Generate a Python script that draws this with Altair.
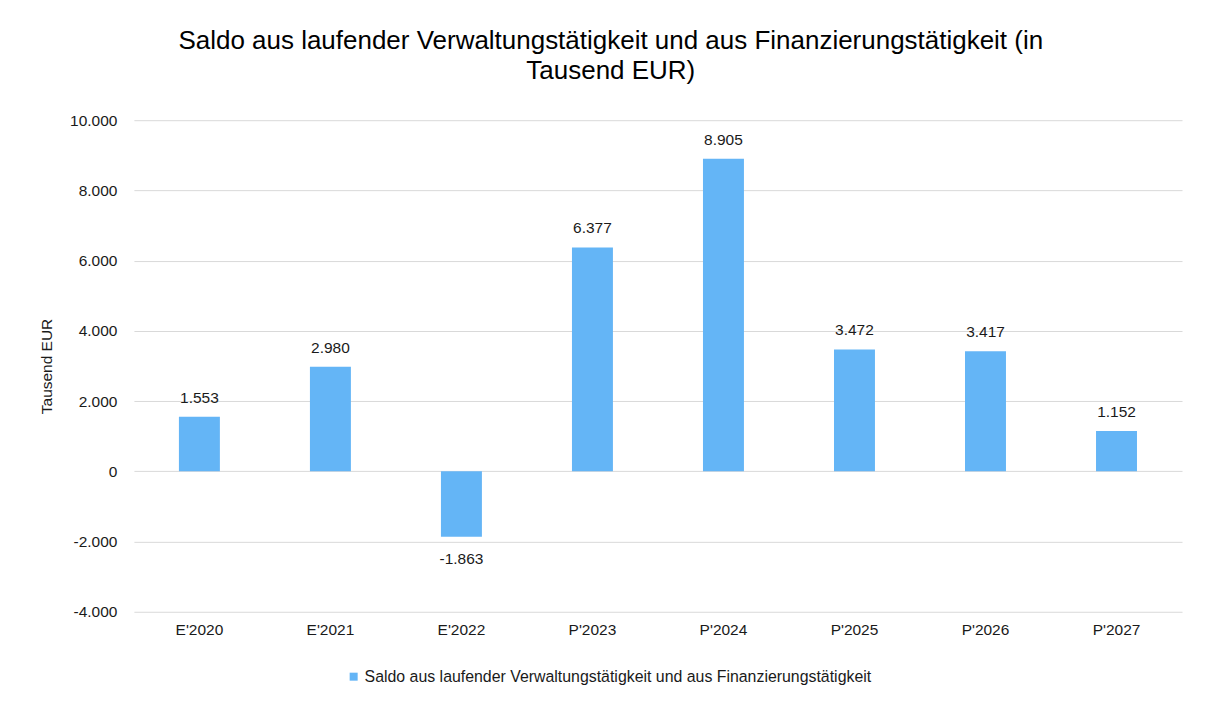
import altair as alt
import pandas as pd

categories = ["E'2020", "E'2021", "E'2022", "P'2023", "P'2024", "P'2025", "P'2026", "P'2027"]
values = [1553, 2980, -1863, 6377, 8905, 3472, 3417, 1152]
series_name = "Saldo aus laufender Verwaltungstätigkeit und aus Finanzierungstätigkeit"
y_ticks = [-4000, -2000, 0, 2000, 4000, 6000, 8000, 10000]

df = pd.DataFrame({"Kategorie": categories, "Wert": values, "Serie": [series_name] * len(categories)})

FONT = "Liberation Sans"
BAR = "#64b5f6"
TXT = "#1a1a1a"
FS = 15.5

x = alt.X("Kategorie:N", sort=categories, title=None,
          scale=alt.Scale(paddingInner=0, paddingOuter=0),
          axis=alt.Axis(labelAngle=0, domain=False, ticks=False, labelPadding=11,
                        labelFontSize=FS, labelColor=TXT, labelFont=FONT))
y = alt.Y("Wert:Q", title="Tausend EUR",
          scale=alt.Scale(domain=[-4000, 10000], nice=False),
          axis=alt.Axis(values=y_ticks, format=",.0f", domain=False, ticks=False,
                        labelPadding=17, labelFontSize=FS, labelColor=TXT,
                        labelFont=FONT, titleFont=FONT, titleFontSize=FS,
                        titleFontWeight="normal", titleColor=TXT, titlePadding=15,
                        gridColor="#d9d9d9", gridWidth=1))

bars = alt.Chart(df).mark_bar(size=41).encode(
    x=x, y=y,
    color=alt.Color("Serie:N", scale=alt.Scale(range=[BAR]),
                    legend=alt.Legend(title=None, orient="none", legendX=212, legendY=549,
                                      direction="horizontal", symbolType="square",
                                      symbolSize=64, labelFont=FONT, labelFontSize=15.9,
                                      labelColor=TXT, symbolStrokeWidth=0,
                                      labelOffset=3, labelLimit=900))
)

pos = alt.Chart(df).transform_filter("datum.Wert >= 0").mark_text(
    dy=-14, baseline="alphabetic", fontSize=FS, font=FONT, color=TXT
).encode(x=alt.X("Kategorie:N", sort=categories), y="Wert:Q", text=alt.Text("Wert:Q", format=",.0f"))

neg = alt.Chart(df).transform_filter("datum.Wert < 0").mark_text(
    dy=15, baseline="top", fontSize=FS, font=FONT, color=TXT
).encode(x=alt.X("Kategorie:N", sort=categories), y="Wert:Q", text=alt.Text("Wert:Q", format=",.0f"))

chart = alt.layer(bars, pos, neg).properties(
    width=1049, height=492,
    padding={"left": 31, "top": 20, "right": 15, "bottom": 10},
    title=alt.Title(["Saldo aus laufender Verwaltungstätigkeit und aus Finanzierungstätigkeit (in",
                     "Tausend EUR)"],
                    font=FONT, fontSize=26, fontWeight="normal", color="#000000",
                    anchor="middle", frame="bounds", lineHeight=30, offset=29)
).configure_view(stroke=None)

chart.save("out.html", embed_options={
    "renderer": "svg", "actions": False,
    "formatLocale": {"decimal": ",", "thousands": ".", "grouping": [3],
                     "currency": ["", " €"], "minus": "-"}
})
